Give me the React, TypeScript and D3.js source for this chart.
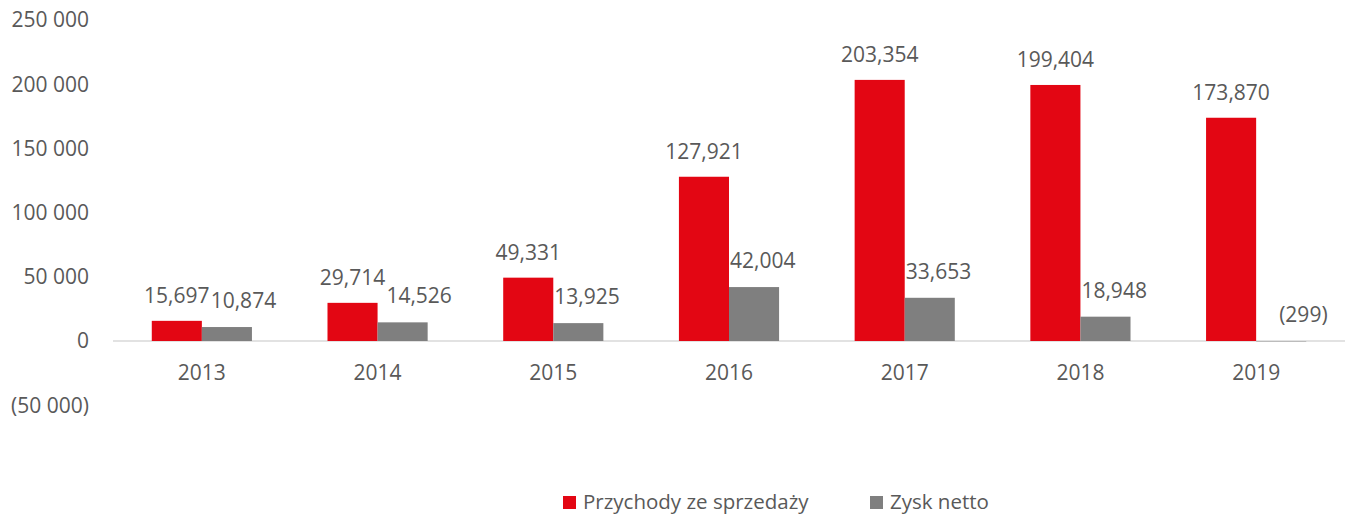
import React from "react";
import * as d3 from "d3";

const years = ["2013", "2014", "2015", "2016", "2017", "2018", "2019"];
const revenue = [15697, 29714, 49331, 127921, 203354, 199404, 173870];
const netProfit = [10874, 14526, 13925, 42004, 33653, 18948, -299];
const seriesNames = ["Przychody ze sprzedaży", "Zysk netto"];
const seriesColors = ["#e30613", "#7f7f7f"];
const yTicks = [-50000, 0, 50000, 100000, 150000, 200000, 250000];

const fontFamily = "'Open Sans', sans-serif";
const textColor = "#595959";
const fs = 21;

const spaceThousands = (v: number) => {
  const s = d3.format(",")(Math.abs(v)).replace(/,/g, " ");
  return v < 0 ? `(${s})` : s;
};
const commaThousands = (v: number) => {
  const s = d3.format(",")(Math.abs(v));
  return v < 0 ? `(${s})` : s;
};
// rough Open Sans width, used to keep neighbouring labels apart
const estWidth = (s: string) =>
  s.split("").reduce((a, c) => a + (/[0-9]/.test(c) ? 0.572 : 0.27), 0) * fs;

export default function App() {
  const w = 1345,
    h = 515;

  const x0 = d3.scaleBand<string>()
    .domain(years)
    .range([114, 1344])
    .paddingInner(0.43)
    .paddingOuter(0.215);

  const x1 = d3.scaleBand<string>()
    .domain(seriesNames)
    .range([0, x0.bandwidth()]);

  const y = d3.scaleLinear()
    .domain([-50000, 250000])
    .range([405.2, 20]);

  const bars = years.map((yr, i) => {
    const rx = x0(yr)! + x1(seriesNames[0])!;
    const gx = x0(yr)! + x1(seriesNames[1])!;
    const bw = x1.bandwidth();
    const rLabel = commaThousands(revenue[i]);
    const gLabel = commaThousands(netProfit[i]);
    const rY = y(revenue[i]) - 18;
    const gY = y(Math.max(0, netProfit[i])) - 19;
    // push the profit label right only when it would run into the revenue label
    const rEnd = rx + bw / 2 + estWidth(rLabel) / 2;
    const clash = Math.abs(rY - gY) < fs;
    const gStart = netProfit[i] < 0
      ? gx + bw / 2 - 2
      : clash ? Math.max(gx + 1, rEnd + 1) : gx + 1;
    return (
      <g key={yr}>
        <rect x={rx} y={y(revenue[i])} width={bw} height={y(0) - y(revenue[i])} fill={seriesColors[0]} />
        <text x={rx + bw / 2} y={rY} textAnchor="middle" fontSize={fs} fill={textColor}>
          {rLabel}
        </text>
        <rect x={gx} y={y(Math.max(0, netProfit[i]))} width={bw}
          height={Math.abs(y(netProfit[i]) - y(0))} fill={seriesColors[1]} />
        <text x={gStart} y={gY} fontSize={fs} fill={textColor}>
          {gLabel}
        </text>
      </g>
    );
  });

  const axisLeft = yTicks.map((t) => (
    <text key={t} x={89} y={y(t)} dy=".35em" textAnchor="end" fontSize={fs} fill={textColor}>
      {spaceThousands(t)}
    </text>
  ));

  const axisBottom = years.map((yr) => (
    <text key={yr} x={x0(yr)! + x0.bandwidth() / 2} y={y(0) + 32} dy=".35em" textAnchor="middle" fontSize={fs} fill={textColor}>
      {yr}
    </text>
  ));

  const legendX = [563, 870];

  return (
    <svg width={w} height={h} style={{ position: "absolute", left: 0, top: 0, fontFamily }}>
      <rect width={w} height={h} fill="#fff" />
      {axisLeft}
      <line x1={113} x2={1345} y1={y(0)} y2={y(0)} stroke="#d9d9d9" strokeWidth={1.5} />
      {bars}
      {axisBottom}
      {seriesNames.map((name, s) => (
        <g key={name} transform={`translate(${legendX[s]},496)`}>
          <rect width={13} height={13} fill={seriesColors[s]} />
          <text x={20} y={6} dy=".35em" fontSize={20.5} fill={textColor}>{name}</text>
        </g>
      ))}
    </svg>
  );
}
